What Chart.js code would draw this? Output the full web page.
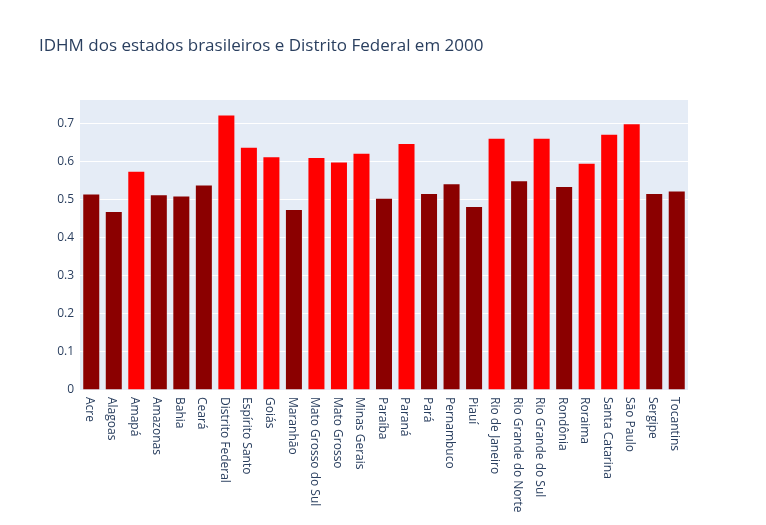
<!DOCTYPE html>
<html>
<head>
<meta charset="utf-8">
<script src="https://cdn.jsdelivr.net/npm/chart.js@4/dist/chart.umd.min.js"></script>
<style>
  body { margin: 0; background: #fff; }
  #wrap { width: 766px; height: 525px; }
</style>
</head>
<body>
<div id="wrap"><canvas id="grafico" width="766" height="525"></canvas></div>
<script>
// dados
const estados = ['Acre', 'Alagoas', 'Amapá', 'Amazonas', 'Bahia', 'Ceará', 'Distrito Federal',
    'Espírito Santo', 'Goiás', 'Maranhão', 'Mato Grosso do Sul', 'Mato Grosso', 'Minas Gerais',
    'Paraíba', 'Paraná', 'Pará', 'Pernambuco', 'Piauí', 'Rio de Janeiro', 'Rio Grande do Norte',
    'Rio Grande do Sul', 'Rondônia', 'Roraima', 'Santa Catarina', 'São Paulo', 'Sergipe', 'Tocantins'];
const idhm2000 = [0.517, 0.471, 0.577, 0.515, 0.512, 0.541, 0.725,
    0.640, 0.615, 0.476, 0.613, 0.601, 0.624,
    0.506, 0.650, 0.518, 0.544, 0.484, 0.664, 0.552,
    0.664, 0.537, 0.598, 0.674, 0.702, 0.518, 0.525];
// 1 = barra vermelha, 0 = vermelho escuro
const destaque = [0, 0, 1, 0, 0, 0, 1,
    1, 1, 0, 1, 1, 1,
    0, 1, 0, 0, 0, 1, 0,
    1, 0, 1, 1, 1, 0, 0];
const yTicks = [0, 0.1, 0.2, 0.3, 0.4, 0.5, 0.6, 0.7];

const corTexto = '#2a3f5f';
const fonte = '"Open Sans", verdana, arial, sans-serif';

const fundoPlot = {
    id: 'fundoPlot',
    beforeDraw(chart) {
        const { ctx, chartArea: a } = chart;
        ctx.save();
        ctx.fillStyle = '#E5ECF6';
        ctx.fillRect(a.left, a.top, a.right - a.left, a.bottom - a.top);
        ctx.restore();
    },
    afterDraw(chart) {
        const { ctx, chartArea: a } = chart;
        const xs = chart.scales.x;
        ctx.save();
        // titulo
        ctx.fillStyle = corTexto;
        ctx.font = '17px ' + fonte;
        ctx.textBaseline = 'alphabetic';
        ctx.textAlign = 'left';
        ctx.fillText('IDHM dos estados brasileiros e Distrito Federal em 2000', 39, 51);
        // rotulos do eixo x, girados 90 graus
        ctx.font = '12px ' + fonte;
        ctx.textBaseline = 'middle';
        estados.forEach((nome, i) => {
            const x = xs.getPixelForValue(i);
            ctx.save();
            ctx.translate(x - 2, a.bottom + 7);
            ctx.rotate(Math.PI / 2);
            ctx.fillText(nome, 0, 0);
            ctx.restore();
        });
        ctx.restore();
    }
};

new Chart(document.getElementById('grafico'), {
    type: 'bar',
    data: {
        labels: estados,
        datasets: [{
            data: idhm2000,
            backgroundColor: destaque.map(d => d ? '#FF0000' : '#8B0000'),
            borderColor: 'rgba(229,236,246,0.55)',
            borderWidth: 1,
            barPercentage: 0.8,
            categoryPercentage: 1
        }]
    },
    options: {
        responsive: false,
        animation: false,
        layout: { padding: { top: 100, right: 78, left: 0, bottom: 0 } },
        plugins: { legend: { display: false }, tooltip: { enabled: false }, title: { display: false } },
        scales: {
            x: {
                grid: { display: false },
                border: { display: false },
                ticks: { display: false },
                afterFit(s) { s.height = 135; }
            },
            y: {
                min: 0,
                max: 0.763,
                afterFit(s) { s.width = 80; },
                afterBuildTicks(s) { s.ticks = yTicks.map(v => ({ value: v })); },
                border: { display: false },
                grid: { color: '#ffffff', lineWidth: 1, drawTicks: false },
                ticks: {
                    color: corTexto,
                    font: { family: fonte, size: 12 },
                    padding: 6,
                    callback: v => v === 0 ? '0' : v.toFixed(1)
                }
            }
        }
    },
    plugins: [fundoPlot]
});
</script>
</body>
</html>
